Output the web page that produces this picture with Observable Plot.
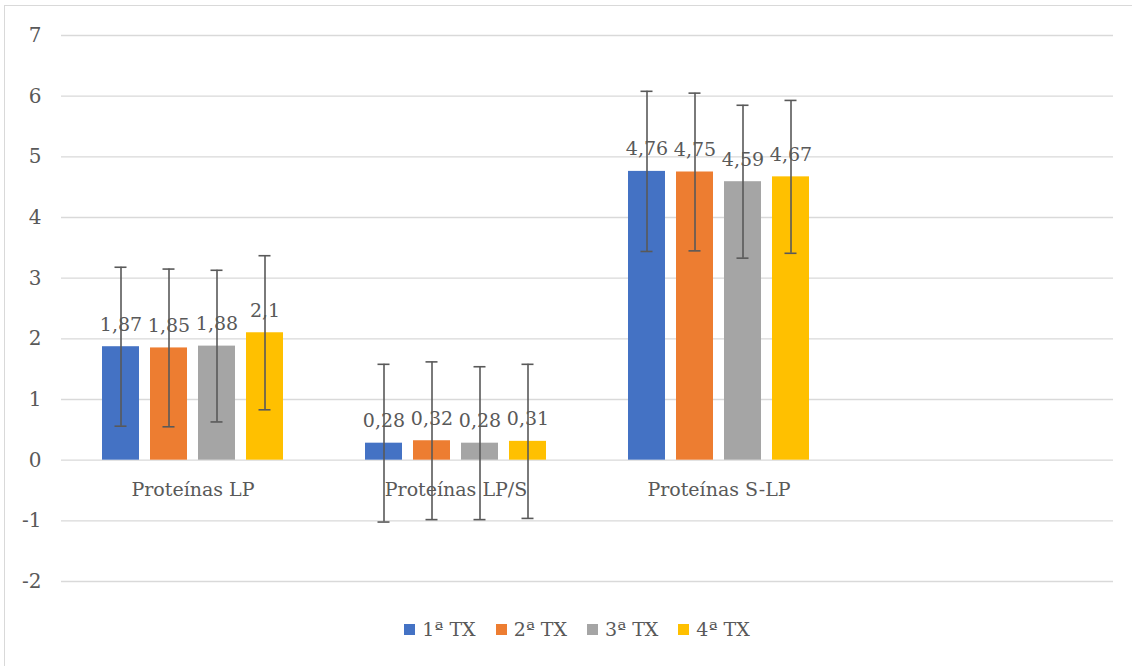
<!DOCTYPE html>
<html>
<head>
<meta charset="utf-8">
<script src="https://cdn.jsdelivr.net/npm/d3@7"></script>
<script src="https://cdn.jsdelivr.net/npm/@observablehq/plot@0.6"></script>
<style>
  html, body { margin: 0; padding: 0; background: #fff; width: 1132px; height: 666px; overflow: hidden; }
  #box { position: absolute; left: 4px; top: 5px; width: 1140px; height: 670px; border: 1px solid #d9d9d9; box-sizing: border-box; }
  #chart { position: absolute; left: 0; top: 0; }
  #legend { position: absolute; left: 0; top: 618px; width: 1154px; display: flex; justify-content: center; gap: 20px;
            font-family: "DejaVu Serif", serif; font-size: 19px; color: #595959; }
  #legend .item { display: flex; align-items: center; gap: 7px; }
  #legend .sw { width: 11px; height: 11px; display: inline-block; }
</style>
</head>
<body>
<div id="box"></div>
<div id="chart"></div>
<div id="legend"></div>
<script>
const categories = ["Proteínas LP", "Proteínas LP/S", "Proteínas S-LP"];
const slots = [...categories, ""]; // empty fourth category slot
const series = ["1ª TX", "2ª TX", "3ª TX", "4ª TX"];
const colors = ["#4472C4", "#ED7D31", "#A5A5A5", "#FFC000"];
const tx1 = [1.87, 0.28, 4.76];
const tx2 = [1.85, 0.32, 4.75];
const tx3 = [1.88, 0.28, 4.59];
const tx4 = [2.1, 0.31, 4.67];
const err1 = [1.31, 1.30, 1.32];
const err2 = [1.30, 1.30, 1.30];
const err3 = [1.25, 1.26, 1.26];
const err4 = [1.27, 1.27, 1.26];
const yTicks = [-2, -1, 0, 1, 2, 3, 4, 5, 6, 7];

const values = [tx1, tx2, tx3, tx4];
const errors = [err1, err2, err3, err4];
const data = [];
series.forEach((s, i) => categories.forEach((c, j) => {
  data.push({cat: c, series: s, value: values[i][j], err: errors[i][j]});
}));
const grid = [];
slots.forEach(c => yTicks.forEach(t => grid.push({cat: c, v: t})));
const fmt = v => String(v).replace(".", ",");
const font = "DejaVu Serif";

const chart = Plot.plot({
  width: 1132,
  height: 600,
  marginLeft: 60,
  marginRight: 19,
  marginTop: 35,
  marginBottom: 19,
  style: {fontFamily: font, fontSize: "19px", color: "#595959", background: "transparent"},
  fx: {domain: slots, padding: 0, axis: null},
  x: {domain: series, paddingInner: 0.22, paddingOuter: 0.847, axis: null},
  y: {domain: [-2, 7], axis: null},
  color: {domain: series, range: colors},
  marks: [
    Plot.ruleY(grid, {fx: "cat", y: "v", stroke: "#d9d9d9", strokeWidth: 1.3}),
    Plot.axisY(yTicks, {tickSize: 0, tickPadding: 20, tickFormat: d => String(d), fontSize: 20, fill: "#595959", label: null, facetAnchor: "left"}),
    Plot.barY(data, {fx: "cat", x: "series", y: "value", fill: "series"}),
    Plot.text(categories, {fx: d => d, y: 0, text: d => d, dy: 30, fontSize: 19, fill: "#595959"}),
    Plot.ruleX(data, {fx: "cat", x: "series", y1: d => d.value - d.err, y2: d => d.value + d.err, stroke: "#595959", strokeWidth: 1.6}),
    Plot.tickY(data, {fx: "cat", x: "series", y: d => d.value - d.err, stroke: "#595959", strokeWidth: 1.6, insetLeft: 12.5, insetRight: 12.5}),
    Plot.tickY(data, {fx: "cat", x: "series", y: d => d.value + d.err, stroke: "#595959", strokeWidth: 1.6, insetLeft: 12.5, insetRight: 12.5}),
    Plot.text(data, {fx: "cat", x: "series", y: "value", text: d => fmt(d.value), lineAnchor: "bottom", dy: -16, fontSize: 19, fill: "#595959"})
  ]
});
document.getElementById("chart").appendChild(chart);

const legend = document.getElementById("legend");
series.forEach((s, i) => {
  const item = document.createElement("div");
  item.className = "item";
  const sw = document.createElement("span");
  sw.className = "sw";
  sw.style.background = colors[i];
  const t = document.createElement("span");
  t.textContent = s;
  item.appendChild(sw);
  item.appendChild(t);
  legend.appendChild(item);
});
</script>
</body>
</html>
